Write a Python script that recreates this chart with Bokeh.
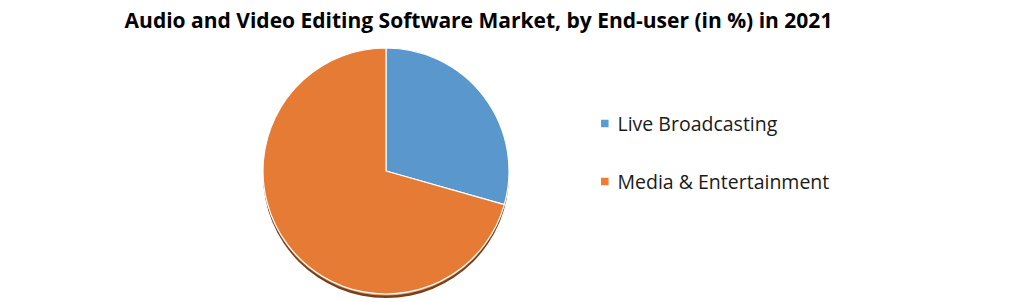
import math
from bokeh.plotting import figure
from bokeh.models import Range1d, ColumnDataSource
from bokeh.core.properties import value
from bokeh.embed import file_html
from bokeh.resources import INLINE

# ---- data ----
title_text = "Audio and Video Editing Software Market, by End-user (in %) in 2021"
categories = ["Live Broadcasting", "Media & Entertainment"]
shares = [29.4, 70.6]
slice_colors = ["#5A97CD", "#E57B34"]
legend_colors = ["#5B9BD5", "#ED7D31"]

W, H = 1019, 302
p = figure(width=W, height=H, output_backend="svg", toolbar_location=None,
           x_range=Range1d(0, W), y_range=Range1d(0, H), min_border=0,
           outline_line_color=None, background_fill_color="white",
           border_fill_color="white")
p.axis.visible = False
p.grid.visible = False

cx, cy, r = 385.5, H - 170.5, 123

# compute angles (clockwise from 12 o'clock)
total = sum(shares)
starts, ends = [], []
acc = 0.0
for s in shares:
    starts.append(math.pi / 2 - 2 * math.pi * acc / total)
    acc += s
    ends.append(math.pi / 2 - 2 * math.pi * acc / total)

# shadow
p.circle(x=[cx], y=[cy - 4], radius=r, fill_color="#7A3E14", line_color=None)
p.circle(x=[cx], y=[cy - 1.5], radius=r, fill_color="#F2C7A8", line_color=None, fill_alpha=0.7)

src = ColumnDataSource(dict(cat=categories, share=shares, start=starts, end=ends,
                            color=slice_colors))
p.wedge(x=cx, y=cy, radius=r, start_angle="start", end_angle="end",
        direction="clock", fill_color="color", line_color="white", line_width=1.2,
        source=src)

# legend drawn from categories
ly = [H - 123, H - 181]
lsrc = ColumnDataSource(dict(cat=categories, color=legend_colors, y=ly))
p.rect(x=604.3, y="y", width=7.5, height=7.5, fill_color="color", line_color=None,
       source=lsrc)
p.text(x=617, y="y", text="cat", source=lsrc, text_font=value("Open Sans"),
       text_font_size="19.5px", text_baseline="middle", text_color="#1a1a1a")

# title
p.text(x=[478], y=[H - 19], text=[title_text], text_font=value("Open Sans"),
       text_font_style="bold", text_font_size="21px", text_align="center",
       text_baseline="middle", text_color="#000000")

open("out.html", "w").write(file_html(p, INLINE))
